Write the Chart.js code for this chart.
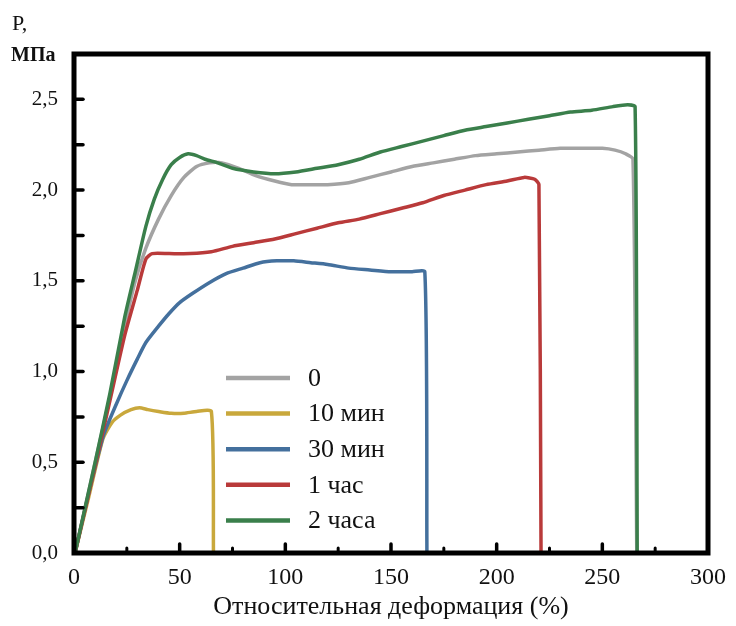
<!DOCTYPE html>
<html lang="ru">
<head>
<meta charset="utf-8">
<title>P, МПа — относительная деформация</title>
<script src="https://cdn.jsdelivr.net/npm/chart.js@4.4.1/dist/chart.umd.min.js"></script>
<style>
    html, body { margin: 0; padding: 0; background: #fff; }
    #wrap { position: relative; width: 736px; height: 626px; }
</style>
</head>
<body>
<div id="wrap"><canvas id="chart"></canvas></div>
<script>
// series labels and colours
const seriesLabels = ['0', '10 мин', '30 мин', '1 час', '2 часа'];
const seriesColors = ['#a3a3a3', '#c9a83c', '#44709d', '#b93a3a', '#3a7f4b'];

// 0 (gray)
const x0 = [0.5, 10, 17, 24, 29, 34, 40, 46, 52, 58, 64, 70, 78, 86, 95, 103, 112, 120, 130, 140, 150, 160, 170, 180, 190, 200, 210, 220, 230, 240, 250, 256, 261, 264.5, 266.3];
const y0 = [0, 0.5, 0.86, 1.25, 1.5, 1.68, 1.84, 1.97, 2.07, 2.13, 2.15, 2.15, 2.12, 2.08, 2.05, 2.03, 2.03, 2.03, 2.04, 2.07, 2.1, 2.13, 2.15, 2.17, 2.19, 2.2, 2.21, 2.22, 2.23, 2.23, 2.23, 2.22, 2.2, 2.17, 0];

// 10 мин (yellow)
const x10 = [0.5, 7, 13.7, 18, 22, 27, 31, 35, 40, 46, 52, 58, 65, 66];
const y10 = [0, 0.31, 0.63, 0.72, 0.76, 0.79, 0.8, 0.79, 0.78, 0.77, 0.77, 0.78, 0.78, 0];

// 30 мин (blue)
const x30 = [0.5, 7, 14, 20, 25, 30, 34, 40, 45, 50, 56, 64, 72, 80, 88, 96, 104, 112, 120, 130, 140, 150, 160, 166, 167];
const y30 = [0, 0.33, 0.65, 0.82, 0.95, 1.07, 1.16, 1.25, 1.32, 1.38, 1.43, 1.49, 1.54, 1.57, 1.6, 1.61, 1.61, 1.6, 1.59, 1.57, 1.56, 1.55, 1.55, 1.55, 0];

// 1 час (red)
const x1h = [0.5, 10, 17, 24, 30, 34, 37, 45, 55, 65, 75, 85, 95, 105, 115, 125, 135, 145, 155, 165, 175, 185, 195, 205, 213, 218, 220, 221];
const y1h = [0, 0.48, 0.84, 1.2, 1.45, 1.62, 1.65, 1.65, 1.65, 1.66, 1.69, 1.71, 1.73, 1.76, 1.79, 1.82, 1.84, 1.87, 1.9, 1.93, 1.97, 2.0, 2.03, 2.05, 2.07, 2.06, 2.03, 0];

// 2 часа (green)
const x2h = [0.5, 10, 17, 24, 29, 34, 38, 42, 46, 50, 54, 58, 62, 68, 75, 85, 95, 105, 115, 125, 135, 145, 155, 165, 175, 185, 195, 205, 215, 225, 235, 245, 255, 262, 265.5, 266.5];
const y2h = [0, 0.5, 0.88, 1.3, 1.55, 1.8, 1.95, 2.06, 2.14, 2.18, 2.2, 2.19, 2.17, 2.15, 2.12, 2.1, 2.09, 2.1, 2.12, 2.14, 2.17, 2.21, 2.24, 2.27, 2.3, 2.33, 2.35, 2.37, 2.39, 2.41, 2.43, 2.44, 2.46, 2.47, 2.46, 0];

// axis ranges and title texts
const xMin = 0, xMax = 300, xStep = 50, xMinorStep = 25;
const yMin = 0, yMax = 2.75, yStep = 0.5, yMinorStep = 0.25;
const xTitle = 'Относительная деформация (%)';
const yTitleTop = 'P,';
const yTitleUnit = 'МПа';

const serif = '"Liberation Serif", "Times New Roman", serif';

function toPoints(xs, ys) {
    return xs.map((x, i) => ({ x: x, y: ys[i] }));
}

const seriesData = [toPoints(x0, y0), toPoints(x10, y10), toPoints(x30, y30), toPoints(x1h, y1h), toPoints(x2h, y2h)];
// green drawn on top, gray at the bottom
const drawOrder = [4, 3, 2, 1, 0];

const framePlugin = {
    id: 'framePlugin',
    afterDatasetsDraw(chart) {
        const { ctx, chartArea: a, scales } = chart;
        const xs = scales.x, ys = scales.y;
        ctx.save();

        // inward tick marks
        ctx.strokeStyle = '#000';
        ctx.lineCap = 'round';
        for (let v = xMinorStep; v < xMax; v += xMinorStep) {
            const px = xs.getPixelForValue(v);
            const major = Math.abs(v / xStep - Math.round(v / xStep)) < 1e-6;
            ctx.lineWidth = major ? 3.5 : 3;
            ctx.beginPath();
            ctx.moveTo(px, a.bottom);
            ctx.lineTo(px, a.bottom - (major ? 9 : 5));
            ctx.stroke();
        }
        for (let v = yMinorStep; v < yMax; v += yMinorStep) {
            const py = ys.getPixelForValue(v);
            ctx.lineWidth = 3.5;
            ctx.beginPath();
            ctx.moveTo(a.left, py);
            ctx.lineTo(a.left + 9, py);
            ctx.stroke();
        }

        // frame
        ctx.lineCap = 'butt';
        ctx.lineWidth = 5;
        ctx.strokeRect(a.left, a.top, a.right - a.left, a.bottom - a.top);

        // legend inside the plot
        const lx0 = a.left + 152, lx1 = a.left + 216, tx = a.left + 234;
        const ly0 = a.top + 324, dy = 35.6;
        ctx.font = '26px ' + serif;
        ctx.textBaseline = 'middle';
        ctx.textAlign = 'left';
        seriesLabels.forEach((label, i) => {
            const ly = ly0 + i * dy;
            ctx.strokeStyle = seriesColors[i];
            ctx.lineWidth = 4.5;
            ctx.beginPath();
            ctx.moveTo(lx0, ly);
            ctx.lineTo(lx1, ly);
            ctx.stroke();
            ctx.fillStyle = '#111';
            ctx.fillText(label, tx, ly + 1);
        });

        // y axis caption in the corner
        ctx.fillStyle = '#111';
        ctx.font = '22px ' + serif;
        ctx.fillText(yTitleTop, 12, 24);
        ctx.font = 'bold 20px ' + serif;
        ctx.fillText(yTitleUnit, 11, 56);
        ctx.restore();
    }
};

const ctx = document.getElementById('chart').getContext('2d');
new Chart(ctx, {
    type: 'line',
    data: {
        datasets: seriesLabels.map((label, i) => ({
            label: label,
            data: seriesData[i],
            borderColor: seriesColors[i],
            backgroundColor: seriesColors[i],
            borderWidth: 3.5,
            pointRadius: 0,
            tension: 0.2,
            fill: false,
            order: drawOrder[i]
        }))
    },
    options: {
        responsive: true,
        maintainAspectRatio: false,
        animation: false,
        layout: { padding: { top: 54, right: 26, left: 0, bottom: 0 } },
        plugins: {
            legend: { display: false },
            tooltip: { enabled: false }
        },
        scales: {
            x: {
                type: 'linear',
                min: xMin,
                max: xMax,
                grid: { display: false, drawTicks: false },
                border: { display: false },
                ticks: {
                    stepSize: xStep,
                    padding: 10,
                    color: '#111',
                    font: { family: serif, size: 24 },
                    maxRotation: 0
                },
                title: {
                    display: true,
                    text: xTitle,
                    color: '#111',
                    font: { family: serif, size: 26 },
                    padding: { top: 0, bottom: 3 }
                },
                afterFit(scale) { scale.height = 73; }
            },
            y: {
                type: 'linear',
                min: yMin,
                max: yMax,
                grid: { display: false, drawTicks: false },
                border: { display: false },
                ticks: {
                    stepSize: yStep,
                    includeBounds: false,
                    padding: 16,
                    color: '#111',
                    font: { family: serif, size: 21 },
                    callback: (v) => Math.abs(v / yStep - Math.round(v / yStep)) < 1e-6 ? v.toFixed(1).replace('.', ',') : ''
                },
                afterFit(scale) { scale.width = 74; }
            }
        }
    },
    plugins: [framePlugin]
});
</script>
</body>
</html>
